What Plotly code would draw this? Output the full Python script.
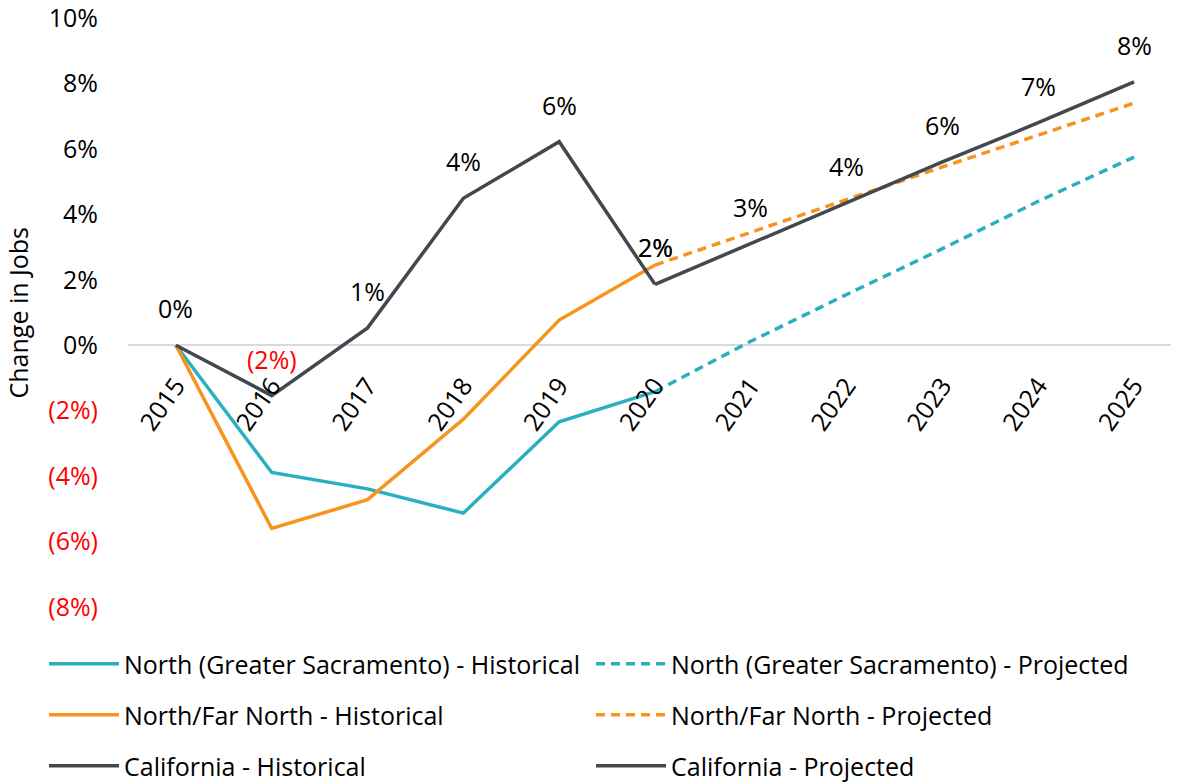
import plotly.graph_objects as go

years_hist = [2015, 2016, 2017, 2018, 2019, 2020]
years_proj = [2020, 2021, 2022, 2023, 2024, 2025]
all_years = [2015, 2016, 2017, 2018, 2019, 2020, 2021, 2022, 2023, 2024, 2025]

north_hist = [0.0, -3.89, -4.39, -5.13, -2.34, -1.42]
north_proj = [-1.42, 0.12, 1.55, 2.95, 4.40, 5.75]
farnorth_hist = [0.0, -5.60, -4.72, -2.26, 0.77, 2.45]
farnorth_proj = [2.45, 3.45, 4.45, 5.45, 6.42, 7.40]
ca_hist = [0.0, -1.54, 0.53, 4.49, 6.22, 1.86]
ca_proj = [1.86, 3.10, 4.35, 5.60, 6.80, 8.05]

y_ticks = [-8, -6, -4, -2, 0, 2, 4, 6, 8, 10]

TEAL = "#2AAFC0"
ORANGE = "#F7941D"
DARK = "#41484F"
FONT = "Open Sans"
FS = 25

L, R, T, B = 120, 5, 10, 183
W, H = 1179, 782
PW = W - L - R
PH = H - T - B


def pct_label(v, color_neg="red"):
    r = int(round(abs(v)))
    if round(v) < 0:
        return f'<span style="color:{color_neg}">({r}%)</span>'
    return f"{r}%"


fig = go.Figure()

series = [
    ("North (Greater Sacramento) - Historical", years_hist, north_hist, TEAL, "solid", "legend"),
    ("North (Greater Sacramento) - Projected", years_proj, north_proj, TEAL, "9px,6px", "legend2"),
    ("North/Far North - Historical", years_hist, farnorth_hist, ORANGE, "solid", "legend3"),
    ("North/Far North - Projected", years_proj, farnorth_proj, ORANGE, "9px,6px", "legend4"),
    ("California - Historical", years_hist, ca_hist, DARK, "solid", "legend5"),
    ("California - Projected", years_proj, ca_proj, DARK, "solid", "legend6"),
]
for name, xs, ys, col, dash, leg in series:
    fig.add_trace(go.Scatter(
        x=xs, y=ys, mode="lines", name=name,
        line=dict(color=col, width=3.5, dash=dash),
        legend=leg, showlegend=True, hoverinfo="skip",
    ))

# data labels for California (historical + projected)
annotations = []
for xs, ys in [(years_hist, ca_hist), (years_proj, ca_proj)]:
    for x, y in zip(xs, ys):
        annotations.append(dict(
            x=x, y=y, xref="x", yref="y", text=pct_label(y),
            showarrow=False, yanchor="middle", xanchor="center", yshift=37,
            font=dict(family=FONT, size=FS, color="#000000"),
        ))

# y-axis title
annotations.append(dict(
    text="Change in Jobs", textangle=-90, showarrow=False,
    xref="paper", yref="paper", x=(9 - L) / PW, y=0.5,
    xanchor="center", yanchor="middle",
    font=dict(family=FONT, size=FS, color="#000000"),
))

tick_text = [pct_label(v) for v in y_ticks]

# legend placement (figure pixels): two columns, three rows
col_x = [36, 583]
row_y = [656, 707, 758]
legends = {}
names = ["legend", "legend2", "legend3", "legend4", "legend5", "legend6"]
for i, nm in enumerate(names):
    cx = col_x[i % 2]
    ry = row_y[i // 2]
    legends[nm] = dict(
        orientation="h", x=(cx - L) / PW, y=(T + PH - ry) / PH,
        xanchor="left", yanchor="middle", itemwidth=70,
        font=dict(family=FONT, size=FS, color="#000000"),
        bgcolor="rgba(0,0,0,0)",
    )

fig.update_layout(
    width=W, height=H, showlegend=True,
    margin=dict(l=L, r=R, t=T, b=B, autoexpand=False),
    paper_bgcolor="white", plot_bgcolor="white",
    font=dict(family=FONT, size=FS, color="#000000"),
    annotations=annotations,
    xaxis=dict(
        range=[2014.5, 2025.5], tickvals=all_years, ticktext=[str(y) for y in all_years],
        tickangle=-55, anchor="free", position=8 / 18, automargin=False,
        showgrid=False, zeroline=False, showline=False, ticks="",
        ticklabelstandoff=20, ticklabeloverflow="allow",
        tickfont=dict(family=FONT, size=FS, color="#000000"),
    ),
    yaxis=dict(
        range=[-8, 10], tickvals=y_ticks, ticktext=tick_text, automargin=False,
        showgrid=False, zeroline=True, zerolinecolor="#D9D9D9", zerolinewidth=2,
        showline=False, ticks="", ticklabelstandoff=29, ticklabeloverflow="allow",
        tickfont=dict(family=FONT, size=FS, color="#000000"),
    ),
    **legends,
)

fig.write_html("out.html")
